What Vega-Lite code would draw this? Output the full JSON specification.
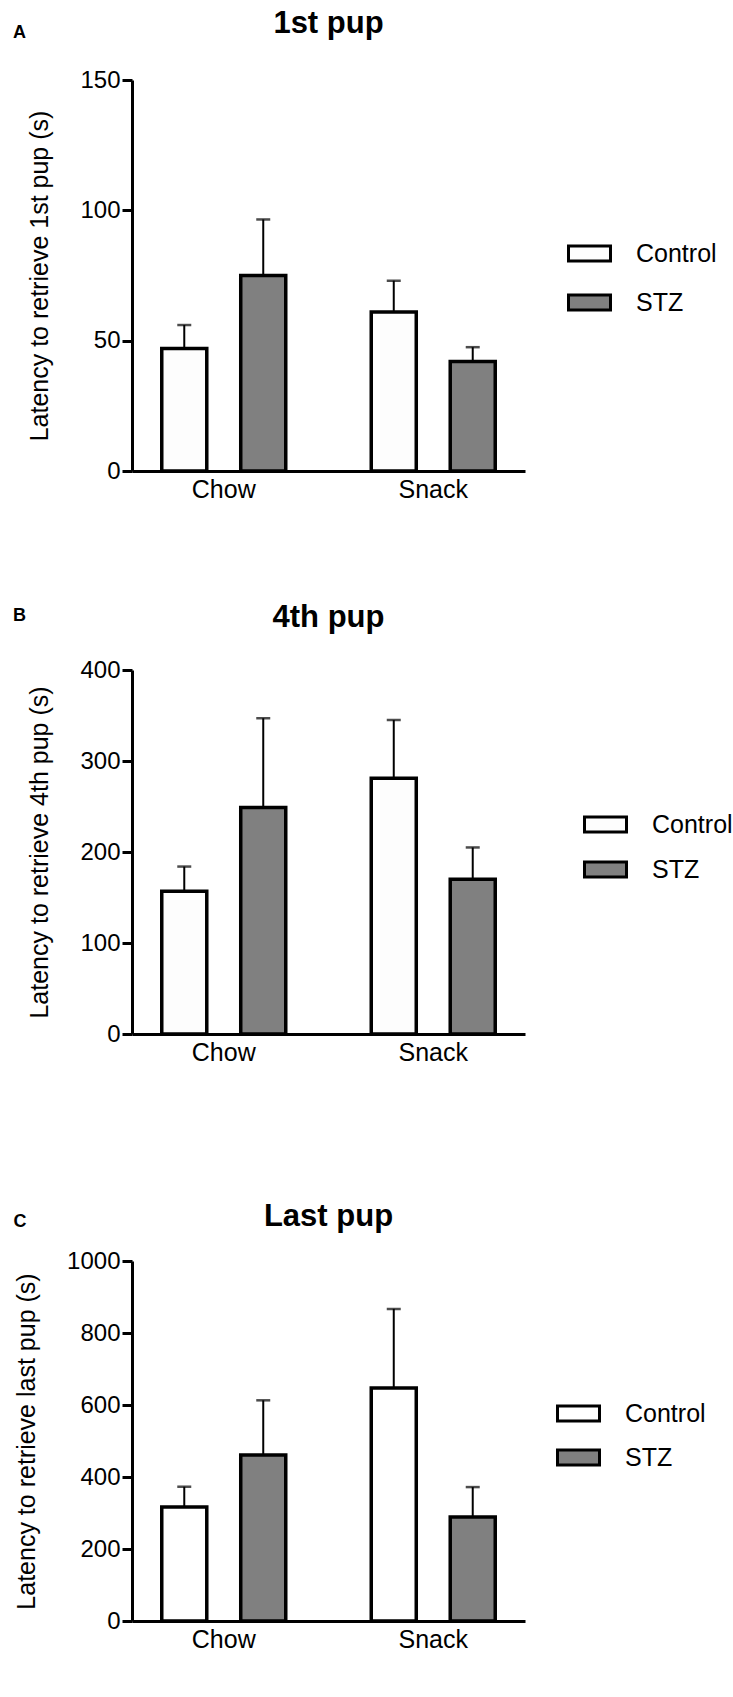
{
  "$schema": "https://vega.github.io/schema/vega-lite/v6.json",
  "background": "white",
  "padding": {"top": 8, "left": 12, "right": 0, "bottom": 0},
  "spacing": 100,
  "resolve": {"scale": {"fill": "independent"}, "legend": {"fill": "independent"}},
  "config": {
    "font": "Liberation Sans",
    "view": {"stroke": null},
    "axis": {"domainColor": "black", "domainWidth": 3, "tickColor": "black", "tickWidth": 3, "tickSize": 10, "labelFont": "Liberation Sans", "labelFontSize": 24, "labelColor": "black", "titleFont": "Liberation Sans", "titleFontSize": 25, "titleFontWeight": "normal", "titleColor": "black", "grid": false, "labelPadding": 2},
    "axisX": {"ticks": false, "tickSize": 0, "labelPadding": 6, "labelAngle": 0, "labelFontSize": 25},
    "axisY": {"titlePadding": 27, "format": "d"},
    "legend": {"orient": "none", "labelFontSize": 25, "labelFont": "Liberation Sans", "labelColor": "black", "symbolType": "M-1,-0.357H1V0.357H-1Z", "symbolSize": 1764, "symbolStrokeColor": "black", "symbolStrokeWidth": 3, "labelOffset": 24, "padding": 0},
    "title": {"font": "Liberation Sans", "color": "black", "fontWeight": "bold"}
  },
  "vconcat": [
    {
      "title": {"text": "A", "anchor": "start", "fontSize": 18, "offset": -34, "dx": -15},
      "vconcat": [
        {
          "title": {"text": "1st pup", "anchor": "middle", "frame": "group", "offset": 28, "fontSize": 31},
          "width": 393, "height": 391,
          "data": {"values": [
            {"diet": "Chow", "group": "Control", "latency": 47, "upper": 56},
            {"diet": "Chow", "group": "STZ", "latency": 75, "upper": 96.5},
            {"diet": "Snack", "group": "Control", "latency": 61, "upper": 73},
            {"diet": "Snack", "group": "STZ", "latency": 42, "upper": 47.5}
          ]},
          "encoding": {
            "x": {"field": "diet", "type": "nominal", "sort": ["Chow", "Snack"], "title": null, "scale": {"paddingInner": 0.246, "paddingOuter": 0.061}},
            "xOffset": {"field": "group", "type": "nominal", "sort": ["Control", "STZ"], "scale": {"paddingInner": 0.43, "paddingOuter": 0.215}}
          },
          "layer": [
            {"mark": {"type": "rule", "strokeWidth": 2, "color": "black"},
             "encoding": {"y": {"field": "latency", "type": "quantitative", "title": "Latency to retrieve 1st pup (s)", "scale": {"domain": [0, 150], "nice": false}, "axis": {"values": [0, 50, 100, 150]}}, "y2": {"field": "upper"}}},
            {"mark": {"type": "tick", "thickness": 2.5, "size": 14, "color": "black"},
             "encoding": {"y": {"field": "upper", "type": "quantitative", "title": "Latency to retrieve 1st pup (s)", "scale": {"domain": [0, 150], "nice": false}, "axis": {"values": [0, 50, 100, 150]}}}},
            {"mark": {"type": "bar", "stroke": "black", "strokeWidth": 3.5},
             "encoding": {
               "y": {"field": "latency", "type": "quantitative", "title": "Latency to retrieve 1st pup (s)", "scale": {"domain": [0, 150], "nice": false}, "axis": {"values": [0, 50, 100, 150]}},
               "fill": {"field": "group", "type": "nominal", "scale": {"domain": ["Control", "STZ"], "range": ["#fdfdfd", "#808080"]}, "legend": {"title": null, "legendX": 435, "legendY": 151, "rowPadding": 13}}
             }}
          ]
        }
      ]
    },
    {
      "title": {"text": "B", "anchor": "start", "fontSize": 18, "offset": -23, "dx": -15},
      "vconcat": [
        {
          "title": {"text": "4th pup", "anchor": "middle", "frame": "group", "offset": 24, "fontSize": 31},
          "width": 393, "height": 364,
          "data": {"values": [
            {"diet": "Chow", "group": "Control", "latency": 157, "upper": 184},
            {"diet": "Chow", "group": "STZ", "latency": 249, "upper": 347},
            {"diet": "Snack", "group": "Control", "latency": 281, "upper": 345},
            {"diet": "Snack", "group": "STZ", "latency": 170, "upper": 205}
          ]},
          "encoding": {
            "x": {"field": "diet", "type": "nominal", "sort": ["Chow", "Snack"], "title": null, "scale": {"paddingInner": 0.246, "paddingOuter": 0.061}},
            "xOffset": {"field": "group", "type": "nominal", "sort": ["Control", "STZ"], "scale": {"paddingInner": 0.43, "paddingOuter": 0.215}}
          },
          "layer": [
            {"mark": {"type": "rule", "strokeWidth": 2, "color": "black"},
             "encoding": {"y": {"field": "latency", "type": "quantitative", "title": "Latency to retrieve 4th pup (s)", "scale": {"domain": [0, 400], "nice": false}, "axis": {"values": [0, 100, 200, 300, 400]}}, "y2": {"field": "upper"}}},
            {"mark": {"type": "tick", "thickness": 2.5, "size": 14, "color": "black"},
             "encoding": {"y": {"field": "upper", "type": "quantitative", "title": "Latency to retrieve 4th pup (s)", "scale": {"domain": [0, 400], "nice": false}, "axis": {"values": [0, 100, 200, 300, 400]}}}},
            {"mark": {"type": "bar", "stroke": "black", "strokeWidth": 3.5},
             "encoding": {
               "y": {"field": "latency", "type": "quantitative", "title": "Latency to retrieve 4th pup (s)", "scale": {"domain": [0, 400], "nice": false}, "axis": {"values": [0, 100, 200, 300, 400]}},
               "fill": {"field": "group", "type": "nominal", "scale": {"domain": ["Control", "STZ"], "range": ["#fdfdfd", "#808080"]}, "legend": {"title": null, "legendX": 451, "legendY": 132, "rowPadding": 9}}
             }}
          ]
        }
      ]
    },
    {
      "title": {"text": ["", "C"], "lineHeight": 48, "anchor": "start", "fontSize": 18, "offset": -30, "dx": -1},
      "vconcat": [
        {
          "title": {"text": "Last pup", "anchor": "middle", "frame": "group", "offset": 16, "fontSize": 31},
          "width": 393, "height": 360,
          "data": {"values": [
            {"diet": "Chow", "group": "Control", "latency": 317, "upper": 373},
            {"diet": "Chow", "group": "STZ", "latency": 461, "upper": 613},
            {"diet": "Snack", "group": "Control", "latency": 647, "upper": 867},
            {"diet": "Snack", "group": "STZ", "latency": 289, "upper": 372}
          ]},
          "encoding": {
            "x": {"field": "diet", "type": "nominal", "sort": ["Chow", "Snack"], "title": null, "scale": {"paddingInner": 0.246, "paddingOuter": 0.061}},
            "xOffset": {"field": "group", "type": "nominal", "sort": ["Control", "STZ"], "scale": {"paddingInner": 0.43, "paddingOuter": 0.215}}
          },
          "layer": [
            {"mark": {"type": "rule", "strokeWidth": 2, "color": "black"},
             "encoding": {"y": {"field": "latency", "type": "quantitative", "title": "Latency to retrieve last pup (s)", "scale": {"domain": [0, 1000], "nice": false}, "axis": {"values": [0, 200, 400, 600, 800, 1000]}}, "y2": {"field": "upper"}}},
            {"mark": {"type": "tick", "thickness": 2.5, "size": 14, "color": "black"},
             "encoding": {"y": {"field": "upper", "type": "quantitative", "title": "Latency to retrieve last pup (s)", "scale": {"domain": [0, 1000], "nice": false}, "axis": {"values": [0, 200, 400, 600, 800, 1000]}}}},
            {"mark": {"type": "bar", "stroke": "black", "strokeWidth": 3.5},
             "encoding": {
               "y": {"field": "latency", "type": "quantitative", "title": "Latency to retrieve last pup (s)", "scale": {"domain": [0, 1000], "nice": false}, "axis": {"values": [0, 200, 400, 600, 800, 1000]}},
               "fill": {"field": "group", "type": "nominal", "scale": {"domain": ["Control", "STZ"], "range": ["#ffffff", "#808080"]}, "legend": {"title": null, "legendX": 424, "legendY": 130, "rowPadding": 8}}
             }}
          ]
        }
      ]
    }
  ]
}
